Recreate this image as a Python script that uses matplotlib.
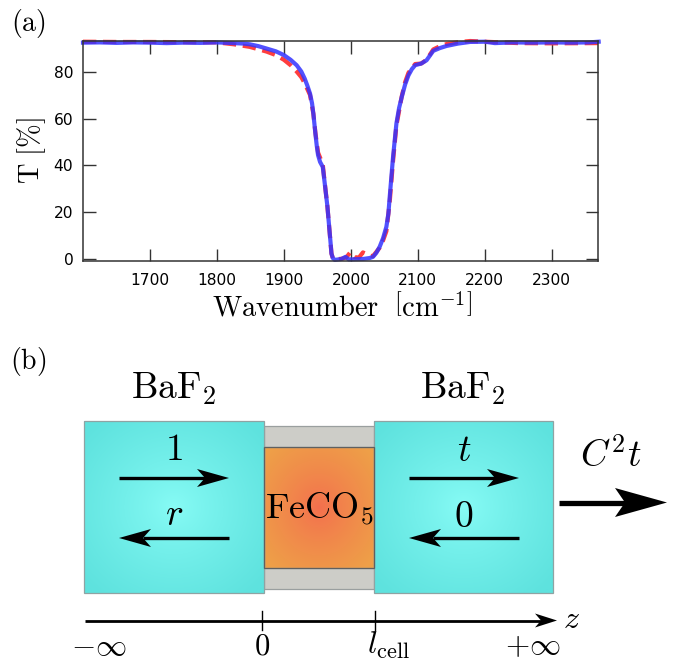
import numpy as np
import matplotlib
matplotlib.use("Agg")
import matplotlib.pyplot as plt
from matplotlib.patches import Polygon, Rectangle

plt.rcParams['mathtext.fontset'] = 'cm'

# transmission spectrum
wn_blue = [1600, 1625, 1650, 1675, 1700, 1725, 1750, 1775, 1800, 1825, 1840, 1849, 1862, 1874, 1888, 1900, 1910,
           1919, 1926, 1931, 1935, 1939, 1942, 1944, 1947, 1949, 1951, 1954, 1958, 1961, 1965, 1968, 1970, 1971,
           1973, 1976, 1986, 1992, 1997, 2018, 2028, 2033, 2038, 2043, 2048, 2053, 2056, 2058, 2063, 2068, 2072,
           2076, 2081, 2086, 2091, 2096, 2105, 2113, 2118, 2123, 2133, 2143, 2160, 2178, 2200, 2215, 2240, 2270,
           2300, 2330, 2355, 2370]
t_blue = [92.3, 92.4, 92.2, 92.4, 92.3, 92.1, 92.3, 92.2, 92.4, 92.1, 91.9, 91.6, 90.8, 89.8, 88.6, 87, 85,
          82.7, 80, 77, 74, 70.6, 66.5, 62, 53.6, 48.5, 44.4, 41.5, 39.4, 32.3, 22.4, 12.5, 6, 2.5,
          0.6, -0.2, 0.2, 1.1, 0, 0.2, 0.6, 1.1, 2.8, 5.4, 9, 13.9, 19.5, 26.7, 43.7, 57.9, 64.5,
          69.2, 74.5, 78.4, 81, 82.7, 83.4, 84.8, 86.8, 88.8, 90, 90.9, 91.9, 92.6, 92.7, 92.1, 92.4, 92.3,
          92.4, 92.3, 92.4, 92.7]
wn_red = [1600, 1650, 1700, 1750, 1800, 1825, 1849, 1874, 1888, 1900, 1910, 1919, 1926, 1931, 1939, 1944, 1947,
          1951, 1958, 1961, 1965, 1968, 1971, 1973, 1976, 1986, 1993, 1999, 2005, 2012, 2018, 2028, 2033, 2043,
          2048, 2053, 2058, 2063, 2068, 2076, 2081, 2086, 2096, 2105, 2113, 2123, 2133, 2143, 2160, 2178, 2200,
          2250, 2300, 2370]
t_red = [92.7, 92.6, 92.6, 92.5, 92.4, 91.6, 90.5, 88.5, 87, 85, 82.7, 80, 77.6, 75, 70, 62, 54,
         45.5, 40.5, 32.5, 22.4, 12.5, 2.5, 0.6, 0, 0.3, 0.8, 3, 1, 0.8, 3, 1.6, 1.4, 5,
         8, 12, 24.5, 42, 57, 69.5, 75.5, 79.5, 83.2, 83.4, 85, 89.4, 90.8, 91.7, 92.5, 93, 92.7,
         92.1, 92, 92.1]

xticks = [1700, 1800, 1900, 2000, 2100, 2200, 2300]
yticks = [0, 20, 40, 60, 80]

W, H = 673, 662
fig = plt.figure(figsize=(W / 100, H / 100), dpi=100)
ax = fig.add_axes([83 / W, 1 - 260.5 / H, 515 / W, 219.5 / H])
ax.plot(wn_red, t_red, color=(1, 0.2, 0.2), lw=3.0, ls=(0, (3.2, 1.6)), alpha=0.95, clip_on=False)
ax.plot(wn_blue, t_blue, color=(0.2, 0.2, 1), lw=3.0, alpha=0.85, clip_on=False)
ax.set_xlim(1600, 2369)
ax.set_ylim(-0.45, 93)
ax.set_xticks(xticks)
ax.set_yticks(yticks)
ax.tick_params(direction='in', top=True, right=True, length=9, width=1, color='#333333', labelsize=11.2, pad=9)
ax.tick_params(axis='y', pad=7)
for s in ax.spines.values():
    s.set_linewidth(1.1)
    s.set_color('#333333')
ax.set_xlabel(r'$\mathrm{Wavenumber}\ \ \left[\mathrm{cm}^{-1}\right]$', fontsize=20.5)
ax.xaxis.set_label_coords(0.503, -0.21)
ax.xaxis.label.set_verticalalignment('center')
ax.set_ylabel(r'$\mathrm{T}\ [\%]$', fontsize=20.5)
ax.yaxis.set_label_coords(-0.1, 0.5)
ax.yaxis.label.set_verticalalignment('center')

# scheme (b), drawn in picture pixels
sc = fig.add_axes([0, 0, 1, 1])
sc.patch.set_alpha(0)
sc.axis('off')


def block(x0, x1, y0, y1, inner, outer):
    yy, xx = np.mgrid[0:1:120j, 0:1:120j]
    r = np.clip(np.hypot(xx - 0.5, yy - 0.5) / 0.66, 0, 1)[..., None]
    img = (np.array(inner) + (np.array(outer) - np.array(inner)) * r ** 0.8) / 255
    sc.imshow(img, extent=(x0, x1, y1, y0), aspect='auto', interpolation='bilinear', zorder=2)
    sc.add_patch(Rectangle((x0, y0), x1 - x0, y1 - y0, fill=False, ec='#8fa3a3', lw=0.9, zorder=3))


def arrow(x0, x1, y, lw, hl, notch, hw):
    d = 1 if x1 > x0 else -1
    sc.plot([x0, x1 - d * notch], [y, y], color='k', lw=lw, solid_capstyle='butt', zorder=5)
    sc.add_patch(Polygon([(x1, y), (x1 - d * hl, y - hw / 2), (x1 - d * notch, y), (x1 - d * hl, y + hw / 2)],
                         closed=True, fc='k', ec='none', zorder=5))


sc.add_patch(Rectangle((264, 426), 110, 163, fc='#cdcdc8', ec='#9a9f9f', lw=0.9, zorder=1))
block(84, 264, 421, 593, (136, 252, 246), (94, 226, 222))
block(374, 553, 421, 593, (136, 252, 246), (94, 226, 222))
block(264, 374, 447, 568, (244, 110, 78), (238, 160, 72))
sc.add_patch(Rectangle((264, 447), 110, 121, fill=False, ec='#606060', lw=0.9, zorder=3))

arrow(119, 229, 478, 2.4, 32, 24, 18)
arrow(229, 119, 538, 2.4, 32, 24, 18)
arrow(409, 519, 478, 2.4, 32, 24, 18)
arrow(519, 409, 538, 2.4, 32, 24, 18)
arrow(559, 667, 502.5, 3.8, 52, 42, 29)
arrow(85, 557, 620.5, 2, 22, 16, 14)
for x in [262, 375]:
    sc.plot([x, x], [611, 630], color='k', lw=1, zorder=5)

txt = dict(ha='center', va='center', zorder=6)
sc.text(28, 24, r'$\mathrm{(a)}$', fontsize=20, **txt)
sc.text(28.5, 361, r'$\mathrm{(b)}$', fontsize=20, **txt)
sc.text(174, 389, r'$\mathrm{BaF}_2$', fontsize=27, **txt)
sc.text(463, 389, r'$\mathrm{BaF}_2$', fontsize=27, **txt)
sc.text(174, 450, r'$1$', fontsize=27, **txt)
sc.text(174, 515, r'$r$', fontsize=27, **txt)
sc.text(464, 451, r'$t$', fontsize=27, **txt)
sc.text(464, 517, r'$0$', fontsize=27, **txt)
sc.text(319, 509, r'$\mathrm{FeCO}_5$', fontsize=26, **txt)
sc.text(611, 456, r'$C^2t$', fontsize=27, **txt)
sc.text(571, 620, r'$z$', fontsize=23, **txt)
sc.text(99, 646, r'$-\infty$', fontsize=22.5, **txt)
sc.text(262, 646, r'$0$', fontsize=22, **txt)
sc.text(389, 645, r'$l_\mathrm{cell}$', fontsize=23, **txt)
sc.text(533, 646, r'$+\infty$', fontsize=22.5, **txt)
sc.set_xlim(0, W)
sc.set_ylim(H, 0)

fig.savefig('out.png', dpi=100)
